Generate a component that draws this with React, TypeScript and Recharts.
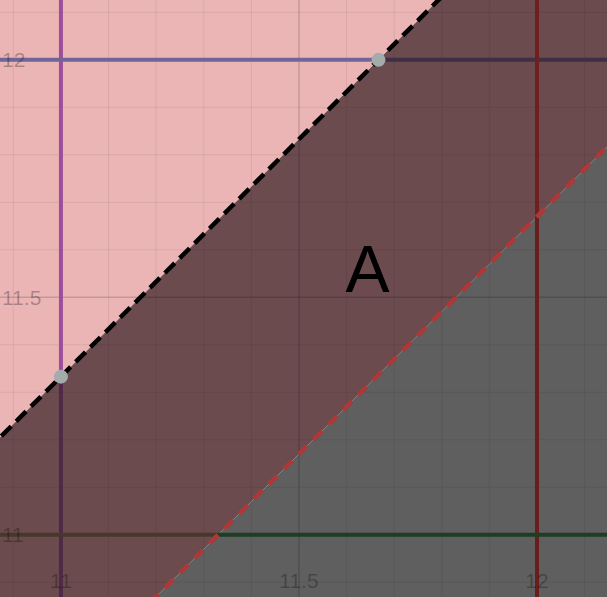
import { Area, ComposedChart, Line, ReferenceDot, ReferenceLine, XAxis, YAxis } from "recharts";

const X_DOMAIN = [10.872, 12.147];
const Y_DOMAIN = [10.869, 12.126];

// two dashed boundaries, sampled past both edges of the window
const LINE_X = [10.5, 12.5];
const BLACK_Y = [10.833, 12.833];
const RED_Y = [10.17, 12.17];
const TOP_Y = [13, 13];
const BOTTOM_Y = [10, 10];

// marked points on the black boundary
const POINT_X = [11, 11.667];
const POINT_Y = [11.333, 12];

// where y = 11 meets the red boundary, and x = 12 meets it
const RED_AT_Y11 = 11.33;
const RED_AT_X12 = 11.67;

const TICKS = [11, 11.5, 12];
const TICK_LABELS = ["11", "11.5", "12"];
const MINOR_X = [10.9, 11.1, 11.2, 11.3, 11.4, 11.6, 11.7, 11.8, 11.9, 12.1];
const MINOR_Y = [10.9, 11.1, 11.2, 11.3, 11.4, 11.6, 11.7, 11.8, 11.9, 12.1];
const MAJOR = [11.5];

const REGION_LABEL = "A";
const REGION_LABEL_AT = { x: 11.644, y: 11.56 };

const data = LINE_X.map((x, i) => ({
  x,
  pink: [BLACK_Y[i], TOP_Y[i]],
  maroon: [RED_Y[i], BLACK_Y[i]],
  grey: [BOTTOM_Y[i], RED_Y[i]],
  black: BLACK_Y[i],
  red: RED_Y[i],
}));

const FONT = "'Liberation Sans', Arial, sans-serif";
const tickStyle = { fill: "#000", fillOpacity: 0.28, fontSize: 21, fontFamily: FONT };

type Seg = { from: { x: number; y: number }; to: { x: number; y: number }; color: string; w: number };

const SEGMENTS: Seg[] = [
  // x = 11
  { from: { x: 11, y: 13 }, to: { x: 11, y: POINT_Y[0] }, color: "#9c4e9b", w: 4 },
  { from: { x: 11, y: POINT_Y[0] }, to: { x: 11, y: 10 }, color: "#4f2948", w: 4 },
  // y = 12
  { from: { x: 10, y: 12 }, to: { x: POINT_X[1], y: 12 }, color: "#6f6697", w: 4 },
  { from: { x: POINT_X[1], y: 12 }, to: { x: 13, y: 12 }, color: "#3e2f44", w: 4 },
  // x = 12
  { from: { x: 12, y: 13 }, to: { x: 12, y: RED_AT_X12 }, color: "#6e1f20", w: 4 },
  { from: { x: 12, y: RED_AT_X12 }, to: { x: 12, y: 10 }, color: "#6a1d1d", w: 4 },
  // y = 11
  { from: { x: 10, y: 11 }, to: { x: RED_AT_Y11, y: 11 }, color: "#45392a", w: 4 },
  { from: { x: RED_AT_Y11, y: 11 }, to: { x: 13, y: 11 }, color: "#1d3e22", w: 4 },
];

export default function App() {
  return (
    <div style={{ position: "absolute", left: 0, top: 0 }}>
      <ComposedChart width={607} height={597} data={data} margin={{ top: 0, right: 0, bottom: 0, left: 0 }}>
        <XAxis dataKey="x" type="number" domain={X_DOMAIN} allowDataOverflow hide />
        <YAxis type="number" domain={Y_DOMAIN} allowDataOverflow hide />

        <Area type="linear" dataKey="pink" fill="#ebb5b5" fillOpacity={1} stroke="none" isAnimationActive={false} />
        <Area type="linear" dataKey="maroon" fill="#6b4b4e" fillOpacity={1} stroke="none" isAnimationActive={false} />
        <Area type="linear" dataKey="grey" fill="#5f5f5f" fillOpacity={1} stroke="none" isAnimationActive={false} />

        {MINOR_X.map((v) => (
          <ReferenceLine key={`mx${v}`} x={v} stroke="#000" strokeOpacity={0.07} strokeWidth={1} />
        ))}
        {MINOR_Y.map((v) => (
          <ReferenceLine key={`my${v}`} y={v} stroke="#000" strokeOpacity={0.07} strokeWidth={1} />
        ))}
        {MAJOR.map((v) => (
          <ReferenceLine key={`Mx${v}`} x={v} stroke="#000" strokeOpacity={0.16} strokeWidth={1.5} />
        ))}
        {MAJOR.map((v) => (
          <ReferenceLine key={`My${v}`} y={v} stroke="#000" strokeOpacity={0.16} strokeWidth={1.5} />
        ))}

        {SEGMENTS.map((s, i) => (
          <ReferenceLine key={`s${i}`} segment={[s.from, s.to]} stroke={s.color} strokeWidth={s.w} ifOverflow="hidden" />
        ))}

        {TICKS.map((v, i) => (
          <ReferenceLine
            key={`xl${v}`}
            x={v}
            stroke="none"
            label={{ value: TICK_LABELS[i], position: "insideBottom", offset: 9, ...tickStyle }}
          />
        ))}
        {TICKS.map((v, i) => (
          <ReferenceLine
            key={`yl${v}`}
            y={v}
            stroke="none"
            label={{ value: TICK_LABELS[i], position: "insideLeft", offset: 2, ...tickStyle }}
          />
        ))}

        <Line type="linear" dataKey="red" stroke="#ad3838" strokeWidth={4.5} strokeDasharray="12 9" dot={false} isAnimationActive={false} />
        <Line type="linear" dataKey="black" stroke="#000" strokeWidth={4.5} strokeDasharray="14 7" dot={false} isAnimationActive={false} />

        {POINT_X.map((x, i) => (
          <ReferenceDot key={`p${i}`} x={x} y={POINT_Y[i]} r={7} fill="#a4abab" stroke="none" />
        ))}

        <ReferenceDot
          x={REGION_LABEL_AT.x}
          y={REGION_LABEL_AT.y}
          r={0}
          stroke="none"
          label={{ value: REGION_LABEL, position: "center", fill: "#000", fontSize: 66, fontFamily: FONT }}
        />
      </ComposedChart>
    </div>
  );
}
